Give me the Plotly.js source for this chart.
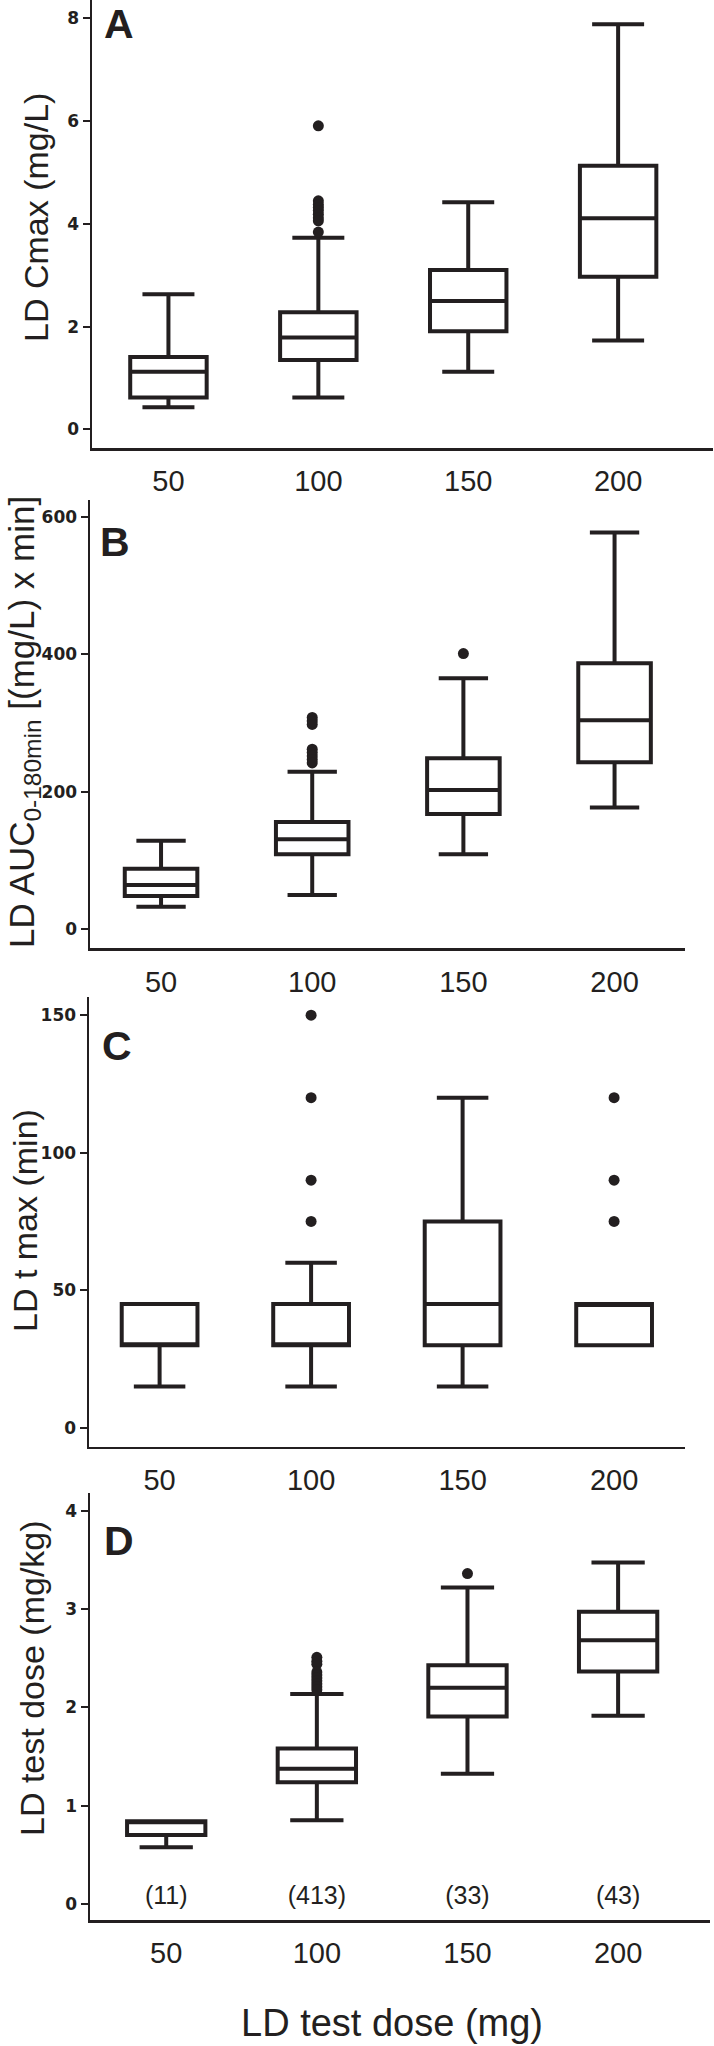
<!DOCTYPE html>
<html>
<head>
<meta charset="utf-8">
<script src="https://cdn.plot.ly/plotly-3.0.1.min.js"></script>
<style>
  html, body { margin: 0; padding: 0; background: #ffffff; }
  #chart { width: 714px; height: 2046px; }
</style>
</head>
<body>
<div id="chart"></div>
<script>
// ---------- data ----------
const doses = ['50', '100', '150', '200'];

// A: LD Cmax (mg/L)
const cmaxLower  = [0.43, 0.62, 1.12, 1.73];
const cmaxQ1     = [0.62, 1.35, 1.91, 2.97];
const cmaxMedian = [1.12, 1.79, 2.50, 4.11];
const cmaxQ3     = [1.41, 2.28, 3.10, 5.13];
const cmaxUpper  = [2.63, 3.73, 4.42, 7.89];
const cmaxOutX   = ['100', '100', '100', '100', '100', '100', '100', '100', '100'];
const cmaxOutY   = [5.91, 4.45, 4.38, 4.32, 4.26, 4.19, 4.12, 4.06, 3.84];

// B: LD AUC 0-180min
const aucLower  = [32.9, 50, 109, 177];
const aucQ1     = [48.4, 109, 167.7, 243];
const aucMedian = [64.4, 131, 202.6, 304];
const aucQ3     = [88, 156, 248.6, 387];
const aucUpper  = [128.8, 229, 365, 577];
const aucOutX   = ['100', '100', '100', '100', '100', '100', '100', '100', '150'];
const aucOutY   = [308, 303, 298, 262, 257, 252, 247, 242, 401];

// C: LD t max (min)
const tmaxLower  = [15, 15, 15, 30];
const tmaxQ1     = [30, 30, 30, 30];
const tmaxMedian = [30, 30, 45, 45];
const tmaxQ3     = [45, 45, 75, 45];
const tmaxUpper  = [45, 60, 120, 45];
const tmaxOutX   = ['100', '100', '100', '100', '200', '200', '200'];
const tmaxOutY   = [150, 120, 90, 75, 120, 90, 75];

// D: LD test dose (mg/kg)
const doseLower  = [0.576, 0.85, 1.323, 1.914];
const doseQ1     = [0.70, 1.238, 1.907, 2.365];
const doseMedian = [0.84, 1.375, 2.20, 2.683];
const doseQ3     = [0.84, 1.582, 2.43, 2.975];
const doseUpper  = [0.84, 2.136, 3.22, 3.474];
const doseOutX   = ['100', '100', '100', '100', '100', '100', '100', '100', '100', '100', '150'];
const doseOutY   = [2.51, 2.47, 2.44, 2.36, 2.33, 2.30, 2.27, 2.24, 2.21, 2.18, 3.363];

const counts = [11, 413, 33, 43];

// ---------- style ----------
const INK = '#231f20';
const W = 714, H = 2046;

function boxTrace(xa, ya, lower, q1, med, q3, upper, width) {
  return {
    type: 'box', xaxis: xa, yaxis: ya,
    x: doses, q1: q1, median: med, q3: q3,
    lowerfence: lower, upperfence: upper,
    boxpoints: false, width: width, whiskerwidth: 0.68,
    fillcolor: '#ffffff',
    line: { color: INK, width: 4 },
    showlegend: false, hoverinfo: 'skip'
  };
}
function outTrace(xa, ya, xs, ys) {
  return {
    type: 'scatter', mode: 'markers', xaxis: xa, yaxis: ya,
    x: xs, y: ys,
    marker: { color: INK, size: 11 },
    showlegend: false, hoverinfo: 'skip'
  };
}

const traces = [
  boxTrace('x', 'y', cmaxLower, cmaxQ1, cmaxMedian, cmaxQ3, cmaxUpper, 0.51),
  outTrace('x', 'y', cmaxOutX, cmaxOutY),
  boxTrace('x2', 'y2', aucLower, aucQ1, aucMedian, aucQ3, aucUpper, 0.48),
  outTrace('x2', 'y2', aucOutX, aucOutY),
  boxTrace('x3', 'y3', tmaxLower, tmaxQ1, tmaxMedian, tmaxQ3, tmaxUpper, 0.5),
  outTrace('x3', 'y3', tmaxOutX, tmaxOutY),
  boxTrace('x4', 'y4', doseLower, doseQ1, doseMedian, doseQ3, doseUpper, 0.52),
  outTrace('x4', 'y4', doseOutX, doseOutY),
  {
    type: 'scatter', mode: 'text', xaxis: 'x4', yaxis: 'y4',
    x: doses, y: doses.map(() => 0.06),
    text: counts.map(n => '(' + n + ')'),
    textposition: 'middle center',
    textfont: { family: 'Liberation Sans, Arial, sans-serif', size: 25, color: INK },
    showlegend: false, hoverinfo: 'skip'
  }
];

// pixel helpers
const px = v => v / W;
const py = v => 1 - v / H;

function xAxis(left, right, range, anchor) {
  return {
    domain: [px(left), px(right)], anchor: anchor,
    type: 'category', categoryorder: 'array', categoryarray: doses,
    range: range,
    showline: true, linecolor: INK, linewidth: 2.5,
    showgrid: false, zeroline: false,
    ticks: 'outside', ticklen: 6, tickcolor: 'rgba(0,0,0,0)',
    tickfont: { family: 'Liberation Sans, Arial, sans-serif', size: 29, color: INK },
    fixedrange: true
  };
}
function yAxis(top, bottom, range, dtick, anchor) {
  return {
    domain: [py(bottom), py(top)], anchor: anchor,
    range: range, dtick: dtick, tick0: 0,
    showline: true, linecolor: INK, linewidth: 2.5,
    showgrid: false, zeroline: false,
    ticks: 'outside', ticklen: 7, tickwidth: 2, tickcolor: INK,
    tickfont: { family: 'DejaVu Sans, sans-serif', size: 17, color: INK, weight: 'bold' },
    fixedrange: true
  };
}

const titleFont = { family: 'Liberation Sans, Arial, sans-serif', color: INK };
function yTitle(text, cx, cy, size) {
  return {
    xref: 'paper', yref: 'paper', x: px(cx), y: py(cy),
    xanchor: 'center', yanchor: 'middle', textangle: -90,
    text: text, showarrow: false,
    font: Object.assign({}, titleFont, { size: size })
  };
}
function letter(text, cx, cy) {
  return {
    xref: 'paper', yref: 'paper', x: px(cx), y: py(cy),
    xanchor: 'center', yanchor: 'middle',
    text: '<b>' + text + '</b>', showarrow: false,
    font: Object.assign({}, titleFont, { size: 41 })
  };
}

const layout = {
  width: W, height: H,
  margin: { l: 0, r: 0, t: 0, b: 0, pad: 0 },
  paper_bgcolor: '#ffffff', plot_bgcolor: '#ffffff',
  showlegend: false,
  xaxis:  xAxis(92, 713, [-0.51, 3.633], 'y'),
  yaxis:  yAxis(0, 448, [-0.364, 8.36], 2, 'x'),
  xaxis2: xAxis(90, 685, [-0.47, 3.466], 'y2'),
  yaxis2: yAxis(500, 948.3, [-27.6, 624.3], 200, 'x2'),
  xaxis3: xAxis(89, 685, [-0.466, 3.468], 'y3'),
  yaxis3: yAxis(997, 1446.7, [-6.9, 156.6], 50, 'x3'),
  xaxis4: xAxis(90, 710, [-0.506, 3.61], 'y4'),
  yaxis4: yAxis(1492.7, 1920, [-0.165, 4.186], 1, 'x4'),
  annotations: [
    yTitle('LD Cmax (mg/L)', 36, 218, 34),
    yTitle('LD AUC<sub>0-180min</sub> [(mg/L) x min]', 24, 722, 35),
    yTitle('LD t max (min)', 25, 1221, 34),
    yTitle('LD test dose (mg/kg)', 32, 1678, 34),
    letter('A', 119, 24),
    letter('B', 115, 542),
    letter('C', 117, 1046),
    letter('D', 119, 1541),
    {
      xref: 'paper', yref: 'paper', x: px(392), y: py(2023),
      xanchor: 'center', yanchor: 'middle',
      text: 'LD test dose (mg)', showarrow: false,
      font: Object.assign({}, titleFont, { size: 38 })
    }
  ]
};

Plotly.newPlot('chart', traces, layout, { staticPlot: true, displayModeBar: false });
</script>
</body>
</html>
